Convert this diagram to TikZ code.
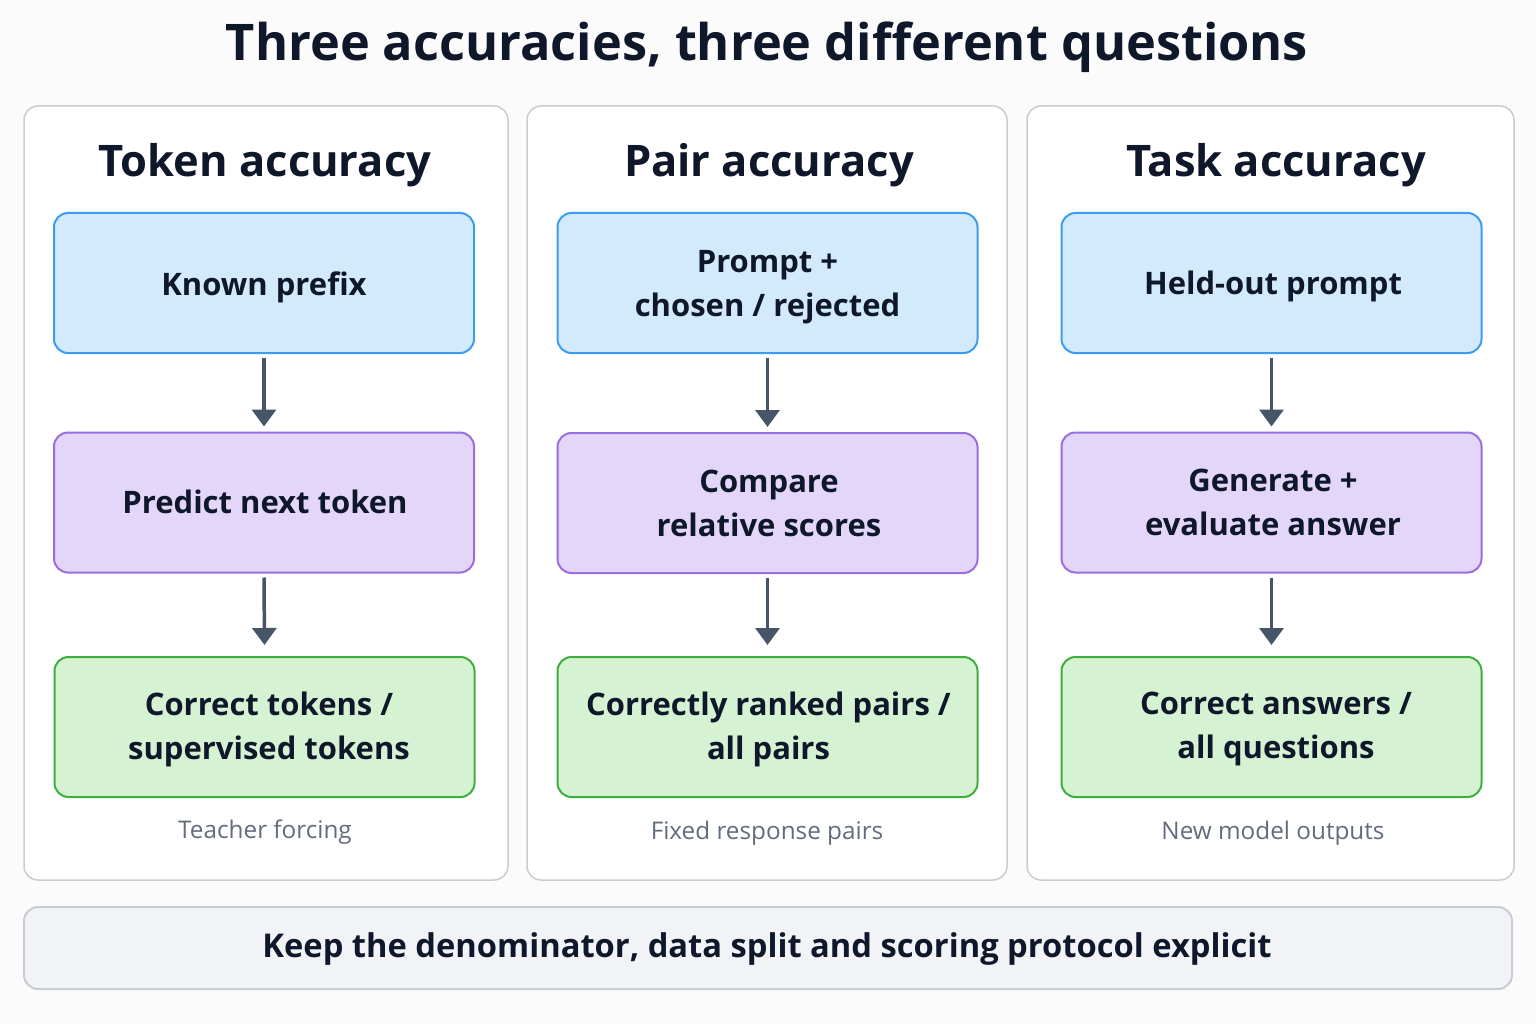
\documentclass[tikz,border=0pt]{standalone}
\usepackage{fontspec}
\setmainfont{Open Sans}
\definecolor{bg}{HTML}{FBFBFC}
\definecolor{panelb}{HTML}{C9CDD3}
\definecolor{txt}{HTML}{0F172A}
\definecolor{bluef}{HTML}{D3E9FC}
\definecolor{blued}{HTML}{3B9CF0}
\definecolor{purf}{HTML}{E3D6F8}
\definecolor{purd}{HTML}{9B6EE0}
\definecolor{grnf}{HTML}{D5F2D2}
\definecolor{grnd}{HTML}{3FAE3F}
\definecolor{arr}{HTML}{475569}
\definecolor{cap}{HTML}{646C7C}
\definecolor{barf}{HTML}{F1F3F7}
\usetikzlibrary{arrows.meta}
\begin{document}
\begin{tikzpicture}[x=1pt,y=-1pt,
  panel/.style={draw=panelb,line width=1.5pt,fill=white,rounded corners=14pt},
  stepbox/.style={rounded corners=14pt,line width=2pt,minimum width=420pt,minimum height=140pt},
  boxtext/.style={align=center,text=txt,font=\fontsize{31}{44}\selectfont\bfseries},
  bluebox/.style={stepbox,draw=blued,fill=bluef},
  purbox/.style={stepbox,draw=purd,fill=purf},
  grnbox/.style={stepbox,draw=grnd,fill=grnf},
  ptitle/.style={text=txt,font=\fontsize{43.5}{50}\selectfont\bfseries},
  capt/.style={text=cap,font=\fontsize{24.3}{28}\selectfont},
  flow/.style={draw=arr,line width=3.5pt,-{Triangle[length=17pt,width=24pt]}}]
\fill[bg] (0,0) rectangle (1536,1024);
\useasboundingbox (0,0) rectangle (1536,1024);
\node[text=txt,font=\fontsize{50.5}{56}\selectfont\bfseries] (title) at (767,47) {Three accuracies, three different questions};
\draw[panel] (24,106) rectangle (508,880);
\draw[panel] (527,106) rectangle (1007,880);
\draw[panel] (1027,106) rectangle (1514,880);
% column 1
\node[ptitle] (t1) at (265,165) {Token accuracy};
\node[bluebox] (a1) at (264,283) {};
\node[boxtext] (a1t) at (264,287) {Known prefix};
\node[purbox] (b1) at (264,502.5) {};
\node[boxtext] (b1t) at (265,502) {Predict next token};
\node[grnbox] (c1) at (264.5,727) {};
\node[boxtext] (c1t) at (269,729) {Correct tokens /\\supervised tokens};
\node[capt] (d1) at (265,832) {Teacher forcing};
% column 2
\node[ptitle] (t2) at (769,165) {Pair accuracy};
\node[bluebox] (a2) at (767.5,283) {};
\node[boxtext] (a2t) at (767.5,287) {Prompt +\\chosen / rejected};
\node[purbox] (b2) at (767.5,503) {};
\node[boxtext] (b2t) at (769,503) {Compare\\relative scores};
\node[grnbox] (c2) at (767.5,727) {};
\node[boxtext] (c2t) at (768.5,729) {Correctly ranked pairs /\\all pairs};
\node[capt] (d2) at (767,833) {Fixed response pairs};
% column 3
\node[ptitle] (t3) at (1276,165) {Task accuracy};
\node[bluebox] (a3) at (1271.5,283) {};
\node[boxtext] (a3t) at (1273,286) {Held-out prompt};
\node[purbox] (b3) at (1271.5,502.5) {};
\node[boxtext] (b3t) at (1273,502.5) {Generate +\\evaluate answer};
\node[grnbox] (c3) at (1271.5,727) {};
\node[boxtext] (c3t) at (1276,729) {Correct answers /\\all questions};
\node[capt] (d3) at (1273,833) {New model outputs};
% arrows
\foreach \c in {1,2,3}{
  \draw[flow] ([yshift=-4pt]a\c.south) -- ([yshift=5pt]b\c.north);
  \draw[flow] ([yshift=-4pt]b\c.south) -- ([yshift=11pt]c\c.north);
}
\node[draw=panelb,fill=barf,line width=2pt,rounded corners=14pt,minimum width=1488pt,minimum height=82pt] (bar) at (768,948) {};
\node[text=txt,font=\fontsize{32.7}{40}\selectfont\bfseries] (bart) at (767,949) {Keep the denominator, data split and scoring protocol explicit};
\end{tikzpicture}
\end{document}
